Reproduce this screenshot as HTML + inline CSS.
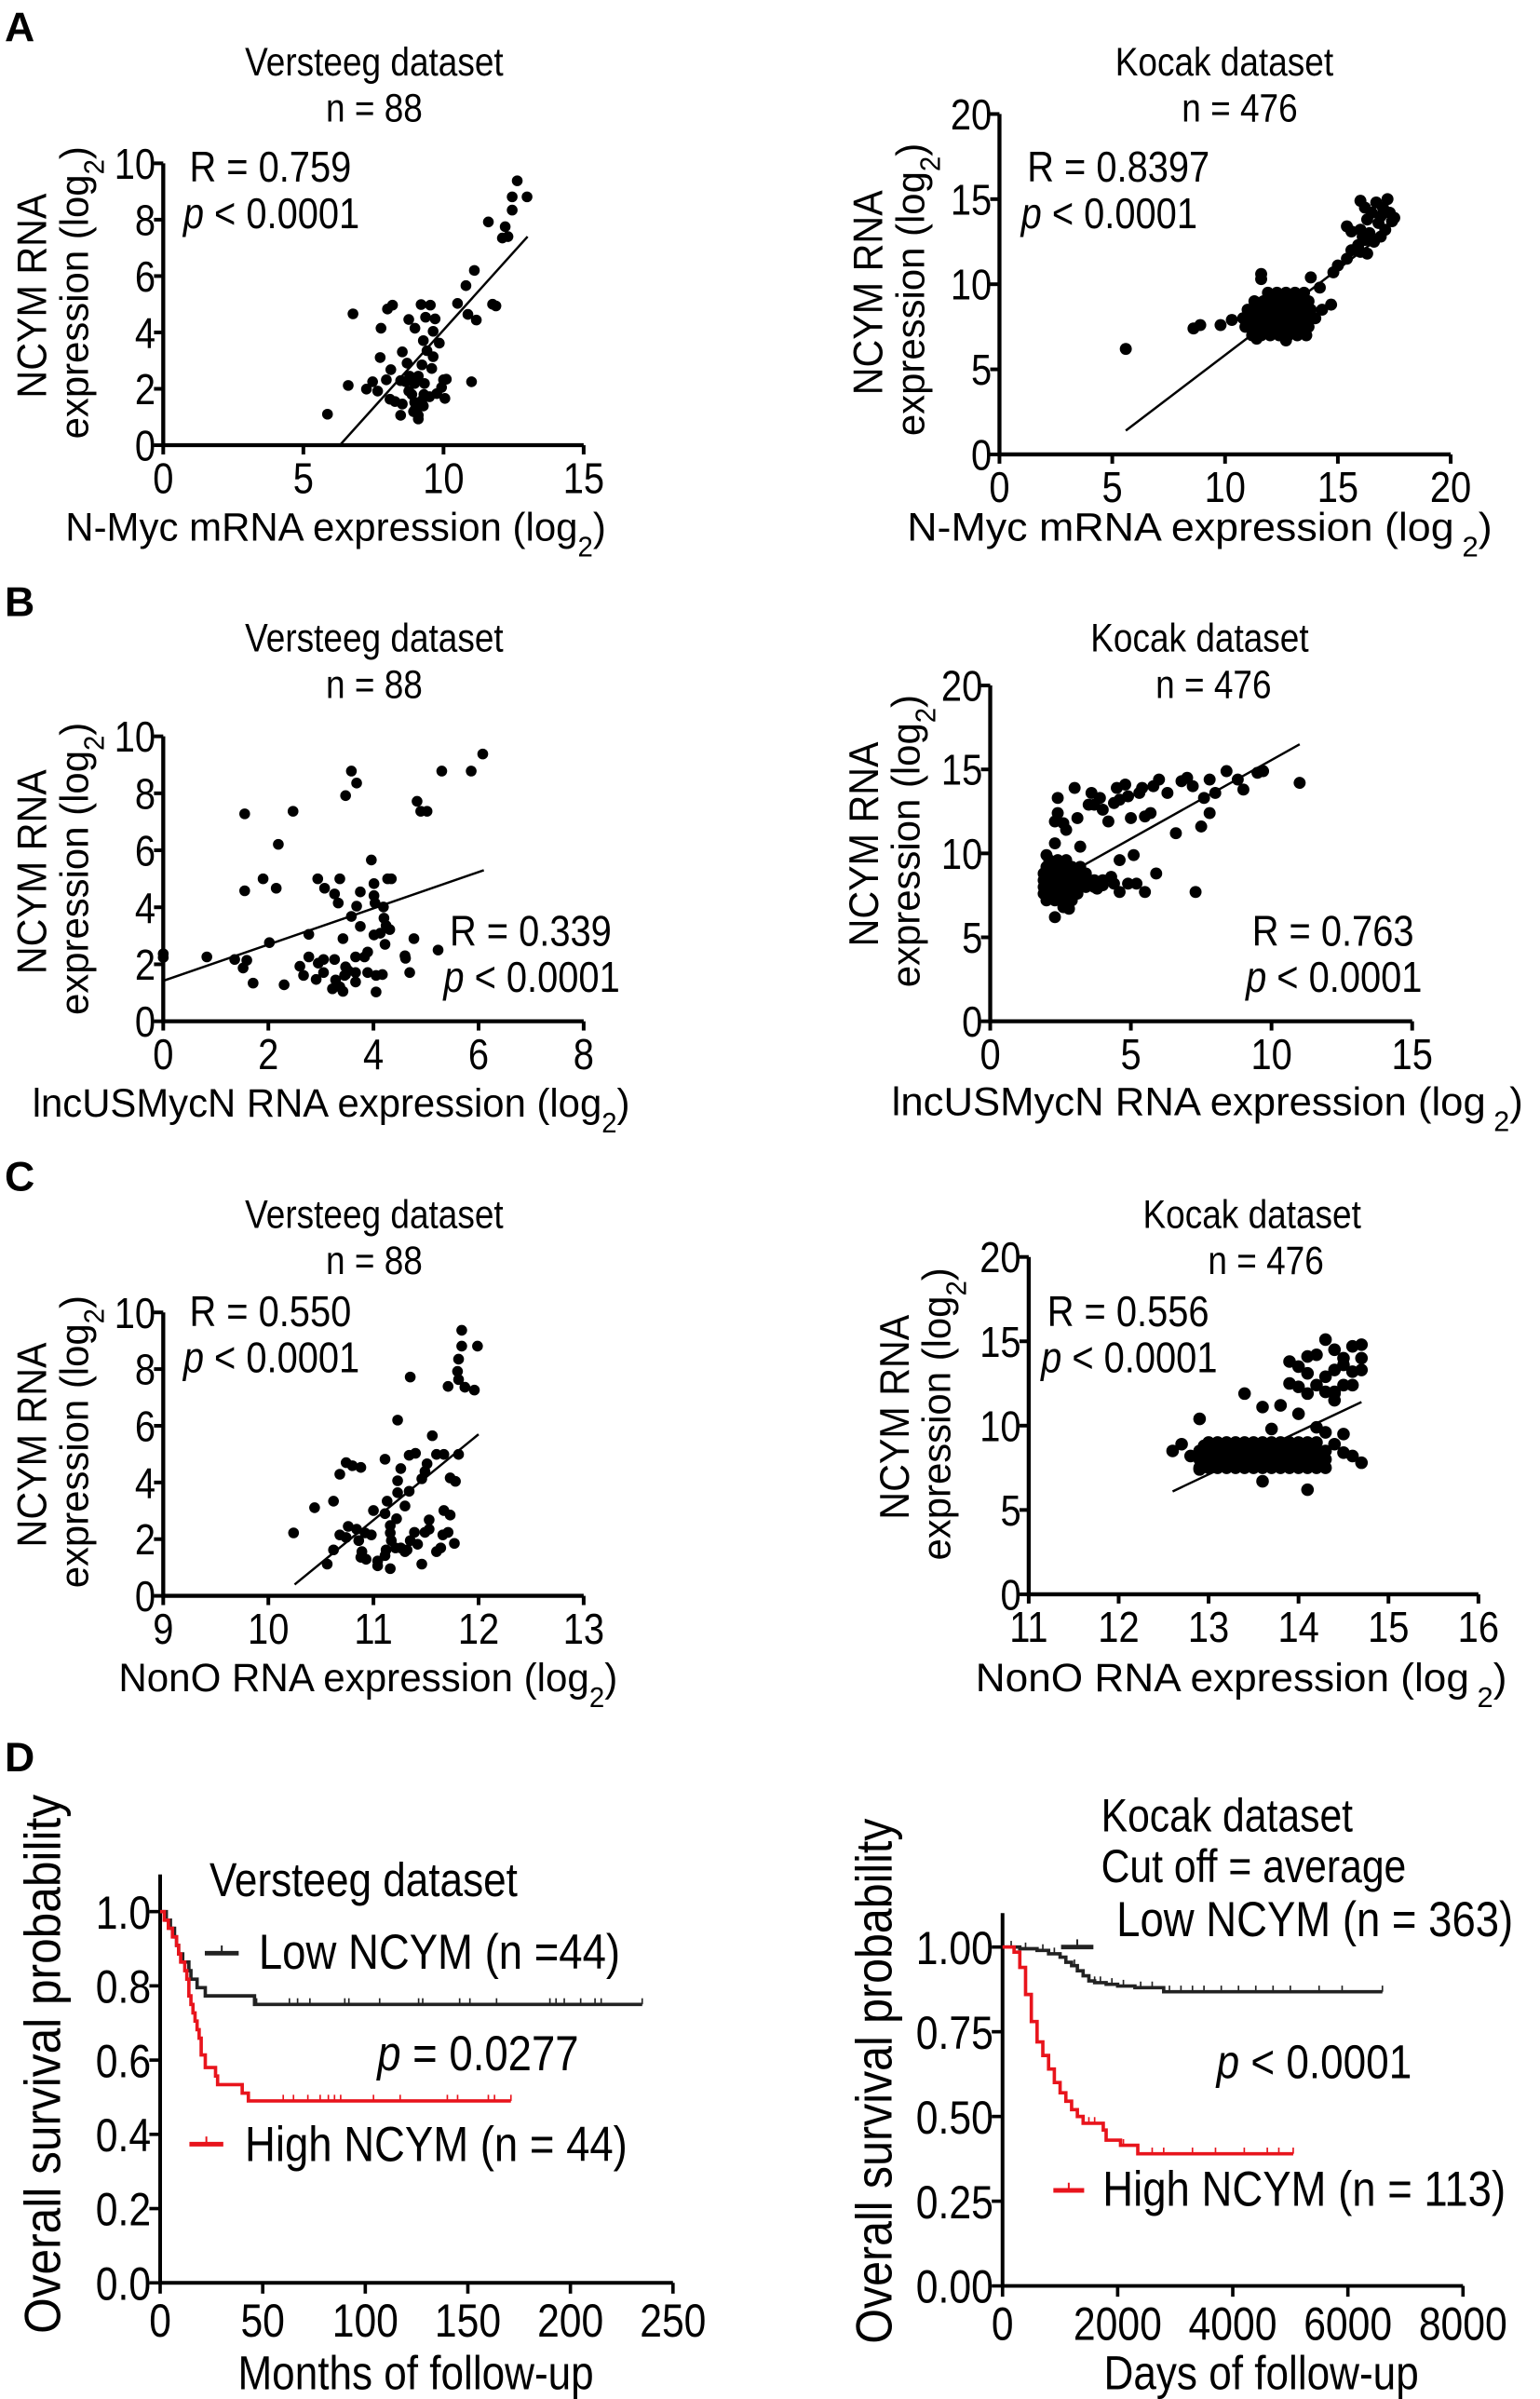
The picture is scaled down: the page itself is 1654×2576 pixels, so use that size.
<!DOCTYPE html>
<html><head><meta charset="utf-8"><style>
html,body{margin:0;padding:0;background:#fff;}
svg{display:block;font-family:"Liberation Sans",Arial,sans-serif;}
</style></head><body>
<svg id="fig" width="1654" height="2576" viewBox="0 0 1000 1557.4" xmlns="http://www.w3.org/2000/svg"></svg>
<script>
// ---------- DATA ----------
const aLeftX=[12.63,12.45,12.98,12.45,11.6,12.2,12.1,12.3,11.1,10.8,10.5,11.75,11.87,10.87,11.17,6.77,8.18,8.0,9.2,9.53,8.76,9.36,9.7,8.98,9.63,7.77,9.28,9.85,8.53,9.41,9.63,7.74,8.7,9.23,9.58,8.12,8.79,9.1,7.96,8.47,10.0,10.1,11.0,7.47,6.6,7.25,7.65,8.65,8.97,9.32,8.76,9.93,8.09,8.27,8.53,8.97,9.23,9.5,9.76,10.05,9.06,8.93,9.1,8.47,9.1,5.86,8.98,9.28,9.3,8.87];
const aLeftY=[9.38,8.81,8.81,8.34,7.92,7.75,7.35,7.4,6.2,5.66,5.03,5.0,4.94,4.64,4.44,4.66,4.97,4.83,4.99,4.97,4.46,4.54,4.48,4.15,4.04,4.15,3.71,3.62,3.31,3.35,3.14,3.11,2.91,2.85,2.72,2.68,2.45,2.45,2.32,2.29,2.32,2.34,2.25,2.25,2.12,1.99,1.92,2.25,2.19,2.19,1.92,2.05,1.63,1.55,1.46,1.52,1.59,1.72,1.83,1.66,1.32,1.19,1.06,1.06,0.93,1.1,1.26,1.39,1.8,1.8];
const aLeftFit=[[6.3,0],[13,7.4]];

const aRightX=[11.2,11.6,12.0,12.4,12.8,13.2,13.6, 10.9,11.3,11.7,12.1,12.5,12.9,13.3,13.7, 10.8,11.2,11.6,12.0,12.4,12.8,13.2,13.6,14.0, 11.0,11.4,11.8,12.2,12.6,13.0,13.4,13.8,14.3, 11.3,11.7,12.1,12.5,12.9,13.3,13.7, 11.9,12.3,12.7,13.1,13.5, 11.6,11.6,13.8,14.7,12.7,11.4,14.2, 5.6,8.6,8.9,9.8,10.3, 14.8,15.0,15.4,15.6,15.9,16.0,16.2,15.4,15.6,16.0,16.3,16.5,16.7,16.8,17.0,17.2,17.3,17.4,16.9,16.6,16.4,16.9,17.1,16.2,16.0,17.5,16.3,16.1];
const aRightY=[7.0,7.0,7.0,7.0,7.0,7.0,7.0, 7.5,7.5,7.5,7.5,7.5,7.5,7.5,7.5, 8.0,8.0,8.0,8.0,8.0,8.0,8.0,8.0,8.0, 8.5,8.5,8.5,8.5,8.5,8.5,8.5,8.5,8.5, 9.0,9.0,9.0,9.0,9.0,9.0,9.0, 9.5,9.5,9.5,9.5,9.5, 10.6,10.3,10.4,8.8,6.7,6.8,9.8, 6.2,7.4,7.6,7.6,7.9, 10.7,11.1,11.5,12.0,12.3,11.9,12.6,13.4,13.1,13.2,13.8,14.2,14.8,13.6,14.5,15.0,14.2,13.7,12.8,12.5,13.0,14.0,13.2,14.5,14.9,13.9,11.8,12.8];
const aRightFit=[[5.6,1.4],[17.3,13.2]];

const bLeftX=[0,0,0.83,1.36,1.59,1.52,1.71,2.30,2.02,1.55,2.47,2.19,1.90,2.15,1.55,2.77,2.77,2.60,2.67,2.91,2.95,3.05,3.05,2.94,3.07,3.26,3.33,3.36,3.42,3.26,3.22,3.36,3.42,3.47,3.47,3.52,3.58,3.58,3.68,3.47,3.66,3.66,3.66,3.68,3.75,3.75,3.83,3.89,3.89,3.96,4.01,4.01,4.03,4.05,4.01,4.05,4.13,4.17,4.19,4.20,4.22,4.24,4.27,4.34,4.31,4.60,4.61,4.69,4.77,4.83,4.90,5.02,5.23,5.30,5.86,6.08,3.28,3.45];
const bLeftY=[2.37,2.24,2.26,2.17,2.14,1.87,1.34,1.28,2.76,7.28,7.37,6.21,5.0,4.67,4.58,3.05,2.26,1.93,1.61,1.47,2.04,2.17,1.71,5.0,4.67,4.47,4.15,5.0,2.90,2.17,1.14,1.21,1.05,1.91,1.64,1.78,3.68,8.78,8.36,7.92,2.26,1.71,1.38,4.04,3.33,4.54,2.26,2.43,1.71,5.66,4.41,4.83,4.15,1.61,3.03,1.03,3.09,1.64,4.01,3.62,2.70,3.36,5.0,5.0,3.22,2.30,2.21,1.71,2.90,7.72,7.37,7.37,2.50,8.78,8.78,9.38,1.45,1.61];
const bLeftFit=[[0,1.42],[6.1,5.3]];

const bRightX=[2.0,2.3,2.6,2.9, 1.9,2.2,2.5,2.8,3.1, 1.9,2.2,2.5,2.8,3.1,3.4,3.7, 1.9,2.2,2.5,2.8,3.1,3.4,3.7,4.0, 1.9,2.2,2.5,2.8,3.1,3.4, 2.0,2.3,2.6,2.9,3.2, 2.1,2.4,2.7, 2.0,2.3,2.3,2.6,2.8,3.2,4.0,4.4,4.6,4.9,5.2,5.5,4.3,3.8,4.6,5.1,5.9,7.3, 2.4,2.4,2.3,2.6,2.7,3.0,3.1,3.6,3.7,3.9,4.0,4.2,4.4,4.5,4.8,4.6,4.9,5.0,5.3,5.5,5.7,5.8,6.0,6.3,6.6,6.8,7.0,7.2,7.5,7.6,7.8,8.0,7.8,8.4,8.8,9.0,9.5,9.7,11.0,5.4,3.5];
const bRightY=[7.2,7.2,7.2,7.2, 7.6,7.6,7.6,7.6,7.6, 8.0,8.0,8.0,8.0,8.0,8.0,8.0, 8.4,8.4,8.4,8.4,8.4,8.4,8.4,8.4, 8.8,8.8,8.8,8.8,8.8,8.8, 9.2,9.2,9.2,9.2,9.2, 9.6,9.6,9.6, 9.9,10.6,6.2,6.8,6.7,10.4,8.1,8.2,7.7,8.2,8.2,7.7,8.6,7.9,9.6,9.9,8.8,7.7, 13.3,12.4,11.9,11.8,11.4,13.9,12.1,13.6,12.9,13.3,12.6,11.9,13.0,13.9,14.1,13.2,13.4,12.1,13.6,12.2,12.4,14.0,14.4,13.6,11.2,14.3,14.5,14.0,11.6,13.3,14.4,13.6,12.4,14.9,14.4,13.8,14.8,14.9,14.2,13.9,12.9];
const bRightFit=[[2.9,8.9],[11,16.5]];

const cLeftX=[11.84,11.84,11.99,11.81,11.80,11.81,11.71,11.87,11.96,11.35,11.23,11.56,11.34,11.40,11.11,11.60,11.67,11.81,11.26,11.51,11.49,11.46,11.73,11.78,11.23,10.74,10.80,10.88,10.68,11.23,11.34,10.62,10.44,11.13,11.30,11.00,11.11,11.22,11.16,11.67,11.73,11.53,10.76,10.84,10.24,10.68,10.74,10.92,10.98,11.16,11.39,11.49,11.53,11.71,11.66,10.86,11.17,11.35,10.62,10.89,11.12,11.21,11.26,11.32,11.42,11.60,11.64,11.77,10.88,10.93,11.04,11.04,11.16,10.56,11.46,11.11,11.30];
const cLeftY=[9.37,8.81,8.81,8.35,7.92,7.63,7.39,7.36,7.26,7.72,6.20,5.65,4.96,5.03,4.82,4.99,4.99,4.99,4.49,4.66,4.39,4.13,4.16,4.04,4.06,4.70,4.59,4.53,4.29,3.64,3.69,3.34,3.11,3.34,3.17,3.01,2.90,2.72,2.48,3.01,2.85,2.68,2.45,2.35,2.22,2.15,2.06,2.22,2.15,2.22,2.24,2.24,2.35,2.24,2.15,1.95,1.95,1.95,1.62,1.56,1.62,1.69,1.69,1.62,1.82,1.56,1.69,1.85,1.36,1.29,1.23,1.06,0.96,1.12,1.12,1.42,1.56];
const cLeftFit=[[10.25,0.4],[12,5.7]];

const cRightX=[12.9,13.0,13.1,13.2,13.3,13.4,13.5,13.6,13.7,13.8,13.9,14.0,14.1,14.2,14.3, 12.9,13.0,13.1,13.2,13.3,13.4,13.5,13.6,13.7,13.8,13.9,14.0,14.1,14.2,14.3, 12.9,13.0,13.1,13.2,13.3,13.4,13.5,13.6,13.7,13.8,13.9,14.0,14.1,14.2,14.3, 13.0,13.1,13.2,13.3,13.4,13.5,13.6,13.7,13.8,13.9,14.0,14.1,14.2, 12.6,12.7,12.8,12.9,12.9,12.95,13.0, 14.3,14.4,14.5,14.6,14.7,14.5,14.2,14.1,13.6,13.6,13.7,13.4,13.8,14.0,14.1,14.3,14.3,14.4,14.5,14.2,14.3,14.4,14.5,14.6,14.7,14.6,14.7,14.6,14.4,14.4,13.9,13.9,14.0,14.1,14.1,14.2,14.5,14.7,14.4,14.0];
const cRightY=[7.5,7.5,7.5,7.5,7.5,7.5,7.5,7.5,7.5,7.5,7.5,7.5,7.5,7.5,7.5, 8.0,8.0,8.0,8.0,8.0,8.0,8.0,8.0,8.0,8.0,8.0,8.0,8.0,8.0,8.0, 8.5,8.5,8.5,8.5,8.5,8.5,8.5,8.5,8.5,8.5,8.5,8.5,8.5,8.5,8.5, 9.0,9.0,9.0,9.0,9.0,9.0,9.0,9.0,9.0,9.0,9.0,9.0,9.0, 8.5,8.9,8.2,7.4,10.4,8.8,8.6, 9.6,8.9,8.4,8.2,7.8,9.5,9.9,6.2,6.7,11.1,9.8,11.9,11.2,10.7,11.9,12.0,12.9,13.3,13.6,14.2,15.1,14.5,14.0,14.7,14.8,13.2,13.3,12.4,11.9,11.5,12.5,13.8,13.5,13.1,14.1,12.4,12.4,14.0,12.0,12.3];
const cRightFit=[[12.6,6.1],[14.7,11.4]];

// survival
const dLowT=[0,3,5,7,8,9,11,14,15,18,22,46];
const dLowS=[1,0.977,0.955,0.932,0.909,0.886,0.864,0.841,0.818,0.795,0.773,0.75];
const dLowEnd=235;
const dLowCens=[47,63,67,73,90,92,107,126,128,146,151,164,190,193,197,205,212,215,235];
const dHighT=[0,2,4,6,8,9,10,12,13,14,15,16,17,18,19,20,22,27,28,40,43];
const dHighS=[1,0.977,0.955,0.932,0.909,0.886,0.864,0.841,0.818,0.773,0.75,0.727,0.705,0.682,0.659,0.614,0.58,0.557,0.534,0.511,0.49];
const dHighEnd=171;
const dHighCens=[60,65,72,78,82,85,88,104,117,140,145,160,163,171];

const eLowT=[0,300,600,800,1000,1100,1200,1300,1400,1500,1600,1800,2000,2300,2800];
const eLowS=[1,0.995,0.99,0.98,0.97,0.955,0.945,0.93,0.915,0.9,0.895,0.89,0.885,0.88,0.868];
const eLowEnd=6600;
const eLowCens=[150,400,700,900,1250,1600,1700,1900,2100,2400,2600,2900,3100,3300,3500,3800,4100,4400,4700,5000,5500,5900,6600];
const eHighT=[0,200,300,400,500,600,700,800,900,1000,1100,1200,1300,1400,1750,1800,2050,2350];
const eHighS=[1,0.985,0.94,0.86,0.78,0.72,0.68,0.64,0.6,0.57,0.545,0.52,0.5,0.48,0.46,0.43,0.415,0.39];
const eHighEnd=5050;
const eHighCens=[1500,1600,2100,2600,2800,3300,3700,4200,4600,4800,5050];

// ---------- DRAW ----------
const NS="http://www.w3.org/2000/svg";
const svg=document.getElementById('fig');
function mk(tag,attrs,parent){const e=document.createElementNS(NS,tag);for(const k in attrs)e.setAttribute(k,attrs[k]);(parent||svg).appendChild(e);return e;}
function txt(str,x,y,size,anchor,parent,extra){const t=mk('text',Object.assign({x:x,y:y,'font-size':size,'text-anchor':anchor||'start',fill:'#000'},extra||{}),parent);t.textContent=str;return t;}
function sub(t,main,subs,after){t.textContent=main;const s=document.createElementNS(NS,'tspan');s.setAttribute('baseline-shift','sub');s.setAttribute('font-size','0.7em');s.textContent=subs;t.appendChild(s);if(after){const a=document.createElementNS(NS,'tspan');a.textContent=after;t.appendChild(a);}}
function fixLen(t,L){t.setAttribute('textLength',L);t.setAttribute('lengthAdjust','spacingAndGlyphs');}

function scatter(name,c){
  const g=mk('g',{});
  
  
  const sx=v=>c.x0+(v-c.xmin)/(c.xmax-c.xmin)*(c.x1-c.x0);
  const sy=v=>c.y0-(v-c.ymin)/(c.ymax-c.ymin)*(c.y0-c.y1);
  const ax=mk('path',{d:`M${c.x0},${c.y1}V${c.y0}H${c.x1}`,stroke:'#000','stroke-width':2.6,fill:'none'},g);
  
  
  c.xt.forEach(v=>{mk('line',{x1:sx(v),x2:sx(v),y1:c.y0,y2:c.y0+6,stroke:'#000','stroke-width':2.4},g);
    const t=txt(String(v),sx(v),c.y0+31,28,'middle',g);
    
    });
  c.yt.forEach(v=>{mk('line',{x1:c.x0-6,x2:c.x0,y1:sy(v),y2:sy(v),stroke:'#000','stroke-width':2.4},g);
    const t=txt(String(v),c.x0-5,sy(v)+10,28,'end',g);
    
    });
  c.xs.forEach((xv,i)=>{const p=mk('circle',{cx:sx(xv),cy:sy(c.ys[i]),r:c.rad||3.5,fill:'#000'},g);
    
    });
  const f=mk('line',{x1:sx(c.fit[0][0]),y1:sy(c.fit[0][1]),x2:sx(c.fit[1][0]),y2:sy(c.fit[1][1]),stroke:'#000','stroke-width':1.5},g);
  
  
  let t=txt(c.title,c.tx,c.ty,26,'middle',g);
  t=txt(c.n,c.nx,c.ty+30,26,'middle',g);
  t=txt(c.r,c.rx,c.ry,28,'start',g);
  t=mk('text',{x:c.rx-4,y:c.ry+30,'font-size':28,fill:'#000'},g);
  const it=document.createElementNS(NS,'tspan');it.setAttribute('font-style','italic');it.textContent='p';t.appendChild(it);
  const rest=document.createElementNS(NS,'tspan');rest.textContent=' < 0.0001';t.appendChild(rest);
  
  t=txt('',c.xlx,c.xly,26,'middle',g);sub(t,c.xlab+' (log',(c.sp?' ':'')+'2',')');fixLen(t,c.xlw);
  t=txt('NCYM RNA',0,0,27,'middle',g,{transform:`translate(${c.ylx},${c.ylc}) rotate(-90)`});fixLen(t,133);
  t=txt('',0,0,26,'middle',g,{transform:`translate(${c.ylx+27},${c.ylc-2}) rotate(-90)`});sub(t,'expression (log','2',')');fixLen(t,190);
}
scatter('scatter-a-versteeg',{x0:106,x1:379,xmin:0,xmax:15,y0:289,y1:106,ymin:0,ymax:10,xt:[0,5,10,15],yt:[0,2,4,6,8,10],xs:aLeftX,ys:aLeftY,fit:aLeftFit,title:'Versteeg dataset',n:'n = 88',tx:243,nx:243,ty:49,r:'R = 0.759',rx:123,ry:118,xlab:'N-Myc mRNA expression',xlw:351,xlx:218,xly:351,ylx:30,ylc:192});
scatter('scatter-a-kocak',{x0:649,x1:942,xmin:0,xmax:20,y0:295,y1:74,ymin:0,ymax:20,xt:[0,5,10,15,20],yt:[0,5,10,15,20],xs:aRightX,ys:aRightY,fit:aRightFit,rad:3.9,title:'Kocak dataset',n:'n = 476',tx:795,nx:805,ty:49,r:'R = 0.8397',rx:667,ry:118,xlab:'N-Myc mRNA expression',sp:1,xlw:380,xlx:779,xly:351,ylx:573,ylc:190});
scatter('scatter-b-versteeg',{x0:106,x1:379,xmin:0,xmax:8,y0:663,y1:478,ymin:0,ymax:10,xt:[0,2,4,6,8],yt:[0,2,4,6,8,10],xs:bLeftX,ys:bLeftY,fit:bLeftFit,title:'Versteeg dataset',n:'n = 88',tx:243,nx:243,ty:423,r:'R = 0.339',rx:292,ry:614,xlab:'lncUSMycN RNA expression',xlw:388,xlx:215,xly:725,ylx:30,ylc:566});
scatter('scatter-b-kocak',{x0:643,x1:917,xmin:0,xmax:15,y0:663,y1:445,ymin:0,ymax:20,xt:[0,5,10,15],yt:[0,5,10,15,20],xs:bRightX,ys:bRightY,fit:bRightFit,rad:3.9,title:'Kocak dataset',n:'n = 476',tx:779,nx:788,ty:423,r:'R = 0.763',rx:813,ry:614,xlab:'lncUSMycN RNA expression',sp:1,xlw:410,xlx:784,xly:724,ylx:570,ylc:548});
scatter('scatter-c-versteeg',{x0:106,x1:379,xmin:9,xmax:13,y0:1036,y1:852,ymin:0,ymax:10,xt:[9,10,11,12,13],yt:[0,2,4,6,8,10],xs:cLeftX,ys:cLeftY,fit:cLeftFit,title:'Versteeg dataset',n:'n = 88',tx:243,nx:243,ty:797,r:'R = 0.550',rx:123,ry:861,xlab:'NonO RNA expression',xlw:324,xlx:239,xly:1098,ylx:30,ylc:938});
scatter('scatter-c-kocak',{x0:668,x1:960,xmin:11,xmax:16,y0:1035,y1:816,ymin:0,ymax:20,xt:[11,12,13,14,15,16],yt:[0,5,10,15,20],xs:cRightX,ys:cRightY,fit:cRightFit,rad:4.1,title:'Kocak dataset',n:'n = 476',tx:813,nx:822,ty:797,r:'R = 0.556',rx:680,ry:861,xlab:'NonO RNA expression',sp:1,xlw:345,xlx:806,xly:1098,ylx:590,ylc:920});

function km(name,c){
  const g=mk('g',{});
  
  
  const sx=v=>c.x0+v/c.xmax*(c.x1-c.x0);
  const sy=v=>c.y0-v/1.0*(c.y0-c.y1);
  const ax=mk('path',{d:`M${c.x0},${sy(1.1)}V${c.y0}H${c.x1}`,stroke:'#000','stroke-width':2.4,fill:'none'},g);
  
  
  c.xt.forEach(v=>{mk('line',{x1:sx(v),x2:sx(v),y1:c.y0,y2:c.y0+7,stroke:'#000','stroke-width':2.2},g);
    const t=txt(String(v),sx(v),c.y0+35,30,'middle',g);
    
    });
  c.yt.forEach(v=>{mk('line',{x1:c.x0-7,x2:c.x0,y1:sy(v),y2:sy(v),stroke:'#000','stroke-width':2.2},g);
    const t=txt(v.toFixed(c.dec),c.x0-6,sy(v)+11,30,'end',g);
    
    });
  [[c.lowT,c.lowS,c.lowEnd,c.lowC,'#222','low-ncym-curve'],[c.hiT,c.hiS,c.hiEnd,c.hiC,'#e8141c','high-ncym-curve']].forEach(([T,S,E,C,col,nm])=>{
    let d=`M${sx(T[0])},${sy(S[0])}`;
    for(let i=1;i<T.length;i++){d+=`H${sx(T[i])}V${sy(S[i])}`;}
    d+=`H${sx(E)}`;
    const p=mk('path',{d:d,stroke:col,'stroke-width':2.2,fill:'none'},g);
    
    
    C.forEach(t=>{let s=S[0];for(let i=0;i<T.length;i++)if(T[i]<=t)s=S[i];
      const m=mk('line',{x1:sx(t),x2:sx(t),y1:sy(s)-4,y2:sy(s),stroke:col,'stroke-width':1},g);
      
      });
  });
  let t=txt(c.ylab,0,0,33,'middle',g,{transform:`translate(${c.ylx},${c.ylc}) rotate(-90)`});fixLen(t,c.ylw);
  t=txt(c.xlab,c.xlx,1551,31,'middle',g);
  return g;
}
const gD=km('survival-versteeg',{x0:104,x1:437,xmax:250,y0:1482,y1:1241,xt:[0,50,100,150,200,250],yt:[0,0.2,0.4,0.6,0.8,1.0],dec:1,lowT:dLowT,lowS:dLowS,lowEnd:dLowEnd,lowC:dLowCens,hiT:dHighT,hiS:dHighS,hiEnd:dHighEnd,hiC:dHighCens,ylab:'Overall survival probability',ylw:350,ylx:39,ylc:1340,xlab:'Months of follow-up',xlx:270});
const gE=km('survival-kocak',{x0:651,x1:950,xmax:8000,y0:1484,y1:1264,xt:[0,2000,4000,6000,8000],yt:[0,0.25,0.5,0.75,1.0],dec:2,lowT:eLowT,lowS:eLowS,lowEnd:eLowEnd,lowC:eLowCens,hiT:eHighT,hiS:eHighS,hiEnd:eHighEnd,hiC:eHighCens,ylab:'Overall survival probability',ylw:341,ylx:579,ylc:1351,xlab:'Days of follow-up',xlx:819});

function legendEntry(g,x1,x2,y,col,label,tx,ty,name){
  const l=mk('line',{x1:x1,x2:x2,y1:y,y2:y,stroke:col,'stroke-width':3},g);
  
  
  mk('line',{x1:(x1+x2)/2,x2:(x1+x2)/2,y1:y-5,y2:y,stroke:col,'stroke-width':1.2},g);
  const t=txt(label,tx,ty,32,'start',g);
  
  
}
let t=txt('Versteeg dataset',136,1231,31,'start',gD);
legendEntry(gD,133,155,1268,'#222','Low NCYM (n =44)',168,1278,'legend-low');
legendEntry(gD,123,145,1392,'#e8141c','High NCYM (n = 44)',159,1403,'legend-high');
t=mk('text',{x:245,y:1344,'font-size':32,fill:'#000'},gD);
t.innerHTML='<tspan font-style="italic">p</tspan> = 0.0277';

t=txt('Kocak dataset',715,1189,30,'start',gE);
t=txt('Cut off = average',715,1222,30,'start',gE);
legendEntry(gE,689,710,1264,'#222','Low NCYM (n = 363)',725,1257,'legend-low');
legendEntry(gE,684,704,1422,'#e8141c','High NCYM (n = 113)',716,1432,'legend-high');
t=mk('text',{x:790,y:1349,'font-size':31,fill:'#000'},gE);
t.innerHTML='<tspan font-style="italic">p</tspan> &lt; 0.0001';

[['A',27],['B',400],['C',773],['D',1150]].forEach(([L,y])=>{const e=txt(L,3,y,27,'start',svg,{'font-weight':'bold'});
  
  });

// condense all other text horizontally (reference uses a narrow sans)
document.querySelectorAll('text').forEach(el=>{
  if(el.hasAttribute('textLength'))return;
  if(el.getAttribute('font-weight')==='bold')return;
  const L=el.getComputedTextLength();
  if(L>0){el.setAttribute('textLength',(L*0.86).toFixed(1));el.setAttribute('lengthAdjust','spacingAndGlyphs');}
});
</script>
</body></html>
